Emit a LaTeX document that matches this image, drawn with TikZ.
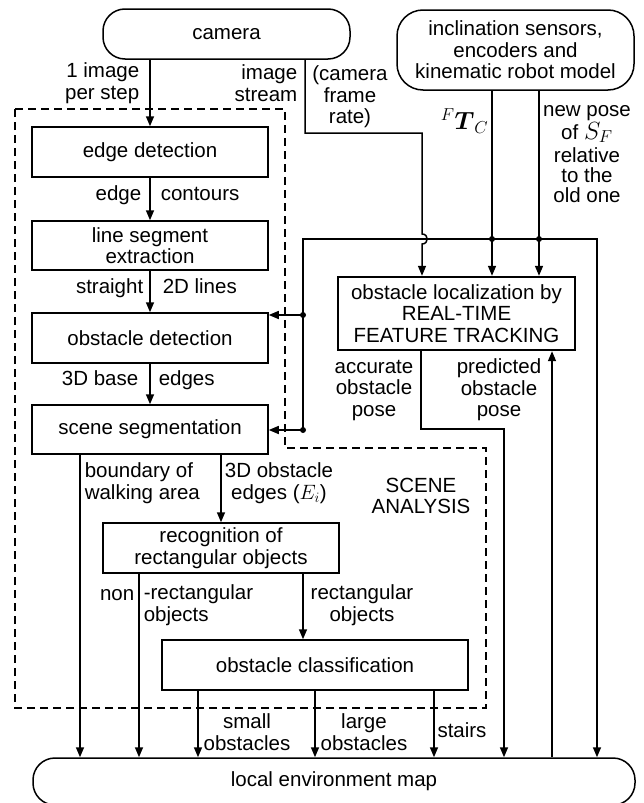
\documentclass[tikz,border=0pt]{standalone}
\usepackage{amsmath}
\usepackage{fontspec}
\setmainfont{Liberation Sans}
\usetikzlibrary{arrows.meta}
\begin{document}
\begin{tikzpicture}[x=1pt,y=-1pt,
  line width=1.5pt,
  font=\fontsize{20.5}{21.5}\selectfont,
  arr/.style={-{Triangle[length=10pt,width=8pt]}},
  box/.style={draw,line width=1.5pt,inner sep=0pt,align=center},
  thickbox/.style={box,line width=2.4pt},
  term/.style={draw,line width=1.5pt,rounded corners=22pt,inner sep=0pt,align=center},
  lbl/.style={inner sep=0pt,align=center},
  one/.style={inner sep=0pt,text height=15pt,text depth=4pt},
  dot/.style={circle,fill,inner sep=0pt,minimum size=6pt}]
\useasboundingbox (0,0) rectangle (643,803);

% dashed region
\draw[line width=1.5pt,dash pattern=on 8pt off 5pt] (15,109) -- (285,109) -- (285,448) -- (486,448) -- (486,708) -- (15,708) -- cycle;

% nodes
\node[term,minimum width=247pt,minimum height=50pt] (camera) at (226.5,34) {camera};
\node[term,rounded corners=26pt,minimum width=237pt,minimum height=80pt] (sensors) at (515.5,50) {inclination sensors,\\encoders and\\kinematic robot model};
\node[box,minimum width=236pt,minimum height=50pt] (edge) at (150,152) {edge detection};
\node[box,minimum width=236pt,minimum height=49pt] (lineseg) at (150,245.5) {line segment\\extraction};
\node[box,minimum width=236pt,minimum height=50pt] (obsdet) at (150,338) {obstacle detection};
\node[box,minimum width=236pt,minimum height=49pt] (sceneseg) at (150,429.5) {scene segmentation};
\node[box,minimum width=236pt,minimum height=50pt] (recog) at (221,548) {recognition of\\rectangular objects};
\node[box,minimum width=306pt,minimum height=50pt] (classif) at (315,665) {obstacle classification};
\node[thickbox,minimum width=237pt,minimum height=73pt] (loc) at (456.5,313.5) {obstacle localization by\\REAL-TIME\\FEATURE TRACKING};
\node[term,minimum width=602pt,minimum height=47pt] (map) at (334,781.5) {local environment map};

% junction coordinates
\coordinate (j1) at (303,239);
\coordinate (j2) at (597,239);
\coordinate (j3) at (303,315);
\coordinate (j4) at (303,430);
\coordinate (d1) at (492,239);
\coordinate (d2) at (539,239);
\coordinate (k) at (504,429);
\coordinate (u) at (552,0);
\coordinate (bend) at (422,133);

% main chain
\draw[arr] (camera.south -| edge.north) -- (edge.north);
\draw[arr] (edge.south) -- (lineseg.north);
\draw[arr] (lineseg.south) -- (obsdet.north);
\draw[arr] (obsdet.south) -- (sceneseg.north);
\draw[arr] ([xshift=-70pt]sceneseg.south) -- ([xshift=-70pt]sceneseg.south |- map.north);
\draw[arr] (sceneseg.south -| recog.north) -- (recog.north);
\draw[arr] ([xshift=-82pt]recog.south) -- ([xshift=-82pt]recog.south |- map.north);
\draw[arr] ([xshift=-12pt]classif.north |- recog.south) -- ([xshift=-12pt]classif.north);
\draw[arr] ([xshift=-117pt]classif.south) -- ([xshift=-117pt]classif.south |- map.north);
\draw[arr] (classif.south) -- (classif.south |- map.north);
\draw[arr] ([xshift=119pt]classif.south) -- ([xshift=119pt]classif.south |- map.north);

% image stream with jump
\draw[arr] ([xshift=78.5pt]camera.south) |- (bend) -- (422,234) .. controls (429,234) and (429,244) .. (422,244) -- ([xshift=-34.5pt]loc.north);

% sensor lines
\draw[arr] ([xshift=-23.5pt]sensors.south) -- ([xshift=35.5pt]loc.north);
\draw[arr] ([xshift=23.5pt]sensors.south) -- ([xshift=82.5pt]loc.north);

% bus
\draw[arr] (j4) |- (j2) -- (j2 |- map.north);
\draw[arr] (j3) -- (j3 -| obsdet.east);
\draw[arr] (j4) -- (j4 -| sceneseg.east);
\node[dot] at (d1) {};
\node[dot] at (d2) {};
\node[dot] at (j3) {};
\node[dot] at (j4) {};

% localization outputs
\draw[arr] ([xshift=-35.5pt]loc.south) |- (k) -- (k |- map.north);
\draw[arr] (u |- map.north) -- (u |- loc.south);

% labels
\node[lbl,anchor=east,align=right] at (140,83) {1 image\\per step};
\node[lbl,anchor=east,align=right] at (298,83) {image\\stream};
\node[lbl] at (350,97) {(camera\\frame\\rate)};
\node[inner sep=0pt,anchor=east,font=\fontsize{25}{26}\selectfont] at (489,121) {$^{F}\boldsymbol{T}_{C}$};
\node[lbl,font=\fontsize{20.5}{20}\selectfont] at (587,154) {new pose\\of \fontsize{24}{20}\selectfont$S_F$\\[3pt]relative\\to the\\old one};
\node[one,anchor=east] at (142,195) {edge};
\node[one,anchor=west] at (160,195) {contours};
\node[one,anchor=east] at (144,288) {straight};
\node[one,anchor=west] at (162,288) {2D lines};
\node[one,anchor=east] at (139,380) {3D base};
\node[one,anchor=west] at (158,380) {edges};
\node[lbl,anchor=west,align=left] at (84,483) {boundary of\\walking area};
\node[lbl] at (279,483) {3D obstacle\\edges ($E_i$)};
\node[lbl] at (421,496) {SCENE\\ANALYSIS};
\node[one,anchor=east] at (135,595) {non};
\node[lbl,anchor=west,align=left] at (143,605) {-rectangular\\objects};
\node[lbl] at (362,605) {rectangular\\objects};
\node[lbl] at (247,732) {small\\obstacles};
\node[lbl] at (364,732) {large\\obstacles};
\node[one] at (462,732) {stairs};
\node[lbl] at (374,390) {accurate\\obstacle\\pose};
\node[lbl] at (499,390) {predicted\\obstacle\\pose};
\end{tikzpicture}
\end{document}
